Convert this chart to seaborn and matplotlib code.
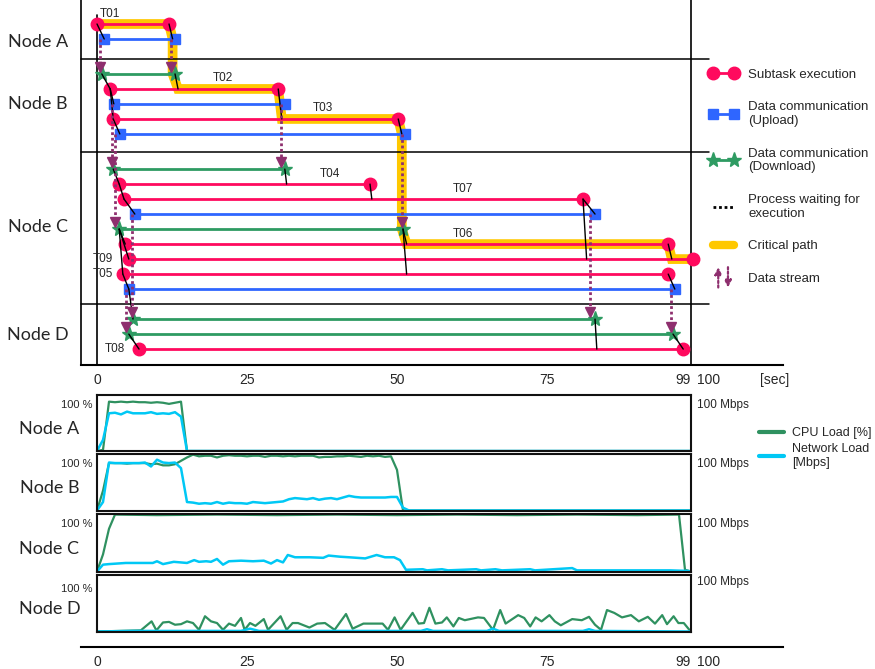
import matplotlib
matplotlib.use('Agg')
import matplotlib.pyplot as plt
import seaborn as sns
from matplotlib.lines import Line2D
from matplotlib.patches import FancyArrowPatch
from matplotlib.legend_handler import HandlerBase

sns.set_style('white')
plt.rcParams['font.family'] = ['Liberation Sans', 'DejaVu Sans']

PINK = '#ff0a5e'
BLUE = '#2f66ff'
GREEN = '#2e9b62'
GOLD = '#ffc800'
PURPLE = '#8e2f6e'
CYAN = '#00c8f5'
CPU_GREEN = '#2f9160'

# ---- task schedule (seconds) ----
node_names = ['Node A', 'Node B', 'Node C', 'Node D']
node_label_lane = [1.2, 5.33, 13.5, 20.7]
node_offset = [0, 1.33, 2.67, 3.67]
lane_node = [0, 0, 1, 1, 1, 1, 1, 2, 2, 2, 2, 2, 2, 2, 2, 2, 3, 3, 3]
lane_kind = ['exec', 'up', 'down', 'exec', 'up', 'exec', 'up',
             'down', 'exec', 'exec', 'up', 'down', 'exec', 'exec', 'exec', 'up',
             'down', 'down', 'exec']
lane_start = [0.0, 1.2, 0.8, 2.2, 2.8, 2.7, 3.8, 2.7, 3.7, 4.5, 6.3, 3.7, 4.7, 5.3, 4.3, 5.3, 6.0, 5.3, 7.0]
lane_end = [12.0, 13.0, 13.0, 30.2, 31.3, 50.2, 51.3, 31.3, 45.5, 81.0, 83.0, 51.0, 95.2, 99.3, 95.2, 96.3, 83.0, 96.0, 97.7]

task_names = ['T01', 'T02', 'T03', 'T04', 'T07', 'T06', 'T09', 'T05', 'T08']
task_lane = [0, 3, 5, 8, 9, 12, 13, 14, 18]
task_x = [2.1, 21.0, 37.7, 38.8, 61.0, 61.0, 2.7, 2.7, 4.6]
task_side = ['above'] * 6 + ['left'] * 3

# process waiting links: (lane from, t from, lane to, t to)
wait_links = [
    (0, 0.0, 1, 1.2), (0, 12.0, 1, 12.6),
    (2, 0.8, 3, 2.2), (3, 2.2, 4, 2.8), (3, 2.2, 5, 2.7), (5, 2.7, 6, 3.8),
    (2, 13.0, 3, 13.5), (3, 30.2, 5, 30.8), (5, 50.2, 6, 50.8),
    (7, 2.7, 8, 3.7), (8, 3.7, 9, 4.5), (9, 4.5, 10, 6.3),
    (7, 31.3, 8, 31.6), (8, 45.5, 9, 45.8),
    (11, 3.7, 12, 4.7), (11, 3.7, 13, 5.3), (11, 3.7, 14, 4.3), (14, 4.3, 15, 5.3),
    (11, 51.0, 12, 51.6), (11, 51.0, 14, 51.6),
    (9, 81.0, 10, 83.0), (9, 81.0, 13, 81.6),
    (12, 95.2, 13, 95.8), (14, 95.2, 15, 96.3),
    (15, 5.3, 16, 6.0), (17, 5.3, 18, 7.0),
    (16, 83.0, 18, 83.3), (17, 96.0, 18, 97.7),
]

# data streams: (t, lane from, lane to)
streams = [(0.5, 1, 2), (12.3, 1, 2), (2.5, 4, 7), (3.0, 6, 11), (30.7, 4, 7),
           (50.8, 6, 11), (5.8, 10, 16), (4.9, 15, 17), (82.2, 10, 16), (95.7, 15, 17)]

crit_t = [0.0, 12.0, 12.6, 12.6, 13.5, 30.2, 30.8, 50.2, 50.8, 50.8, 51.6, 95.2, 95.8, 99.3]
crit_lane = [0, 0, 1, 2, 3, 3, 5, 5, 6, 11, 12, 12, 13, 13]

# ---- load data ----
A_t = [0, 1, 2, 3, 4, 5, 6, 7, 8, 9, 10, 11, 12, 13, 14, 15, 99]
A_cpu = [0, 2, 89, 88, 89, 88, 89, 88, 88, 87, 88, 87, 85, 87, 89, 0, 0]
A_net = [0, 20, 68, 69, 66, 71, 68, 68, 68, 70, 67, 68, 67, 70, 62, 0, 0]

B_cpu_t = list(range(52)) + [99]
B_cpu = [0, 35, 84, 84, 84, 83, 84, 84, 84, 82, 83, 80, 80, 82, 88, 94, 99, 96, 97, 97,
         94, 97, 98, 97, 97, 96, 97, 97, 95, 97, 97, 96, 97, 96, 97, 97, 97, 94, 95, 95,
         96, 96, 97, 96, 95, 97, 96, 97, 95, 96, 72, 0, 0]
B_net_t = list(range(53)) + [99]
B_net = [0, 15, 85, 84, 84, 84, 84, 84, 85, 78, 90, 85, 84, 85, 75, 15, 14, 12, 13, 12,
         15, 12, 14, 13, 13, 12, 15, 14, 13, 14, 15, 16, 20, 22, 21, 20, 22, 19, 21, 22,
         20, 23, 26, 24, 23, 23, 23, 23, 23, 24, 24, 5, 0, 0]

C_cpu_t = [0, 1, 2, 3, 10, 20, 30, 40, 50, 60, 70, 80, 90, 97, 98, 99]
C_cpu = [0, 30, 75, 100, 99, 100, 99, 100, 99, 100, 99, 100, 99, 100, 3, 0]
C_net_t = [0, 1, 2, 4.8, 9.3, 10, 11, 12.8, 15, 16.2, 17, 18.2, 19, 20, 21, 22, 24, 26, 27.8, 29,
           30, 31, 31.8, 33, 35.4, 37.7, 38.6, 40.5, 42, 44.7, 46.6, 48, 49.5, 50.5, 51.5,
           54.3, 55, 57.5, 58.5, 63.2, 64, 66.4, 67.5, 72.2, 73, 79.2, 80, 95.5, 98.5, 99]
C_net = [0, 12, 13, 15, 15, 18, 13, 17, 15, 20, 17, 18, 17, 22, 12, 18, 19, 18, 19, 14,
         20, 16, 29, 25, 25, 24, 28, 26, 25, 23, 29, 25, 25, 20, 3,
         4, 2, 4, 2, 4, 2, 4, 2, 4, 2, 6, 2, 2, 1, 0]

D_cpu_t = [0, 7.3, 9.1, 9.9, 11, 12, 13, 14, 15, 16, 17, 18, 19, 20, 21, 22, 23, 24, 24.6, 25.5,
           26.4, 27.8, 28.5, 30.6, 31.6, 32.6, 33.5, 35.4, 36.7, 38, 39.6, 41.5, 42.6, 44.4, 47.6,
           48.5, 49.6, 50.6, 52.6, 53.6, 54.5, 55.4, 56.4, 57.5, 58.3, 59.4, 60.3, 61.3, 63.5, 64.5,
           66, 67.2, 68.1, 70.2, 71.2, 72.2, 73.1, 74.1, 75.4, 76.3, 77.3, 79.2, 80.8, 82, 83,
           84, 85, 86.2, 87.5, 89, 90.3, 91.8, 93, 94.2, 95, 96.1, 96.9, 97.8, 98.8, 99]
D_cpu = [0, 2, 18, 2, 16, 17, 12, 13, 18, 15, 3, 27, 18, 15, 3, 14, 10, 24, 3, 15,
         10, 22, 3, 27, 3, 15, 15, 7, 14, 15, 3, 31, 5, 14, 14, 3, 25, 3, 33, 14,
         15, 42, 14, 16, 25, 9, 24, 20, 25, 24, 3, 38, 14, 29, 24, 9, 25, 18, 29, 18,
         11, 22, 20, 26, 12, 3, 38, 33, 25, 29, 18, 26, 14, 29, 13, 27, 15, 15, 2, 1]
D_net_t = [0, 6, 24, 25.5, 27, 54, 55, 56, 65, 66, 67, 81, 82, 83, 99]
D_net = [0, 1, 1, 5, 1, 1, 4, 1, 1, 5, 1, 1, 4, 1, 0]

loads = [(A_t, A_cpu, A_t, A_net), (B_cpu_t, B_cpu, B_net_t, B_net),
         (C_cpu_t, C_cpu, C_net_t, C_net), (D_cpu_t, D_cpu, D_net_t, D_net)]

major_ticks = [0, 25, 50, 75, 99, 100]
minor_ticks = [5, 10, 15, 20, 30, 35, 40, 45, 55, 60, 65, 70, 80, 85, 90, 95, 105, 110]

W, H = 875, 669
fig = plt.figure(figsize=(W / 100, H / 100), dpi=100)


def rect(x0, y0, x1, y1):
    return [x0 / W, 1 - y1 / H, (x1 - x0) / W, (y1 - y0) / H]


def time_axis(a):
    a.set_xticks(major_ticks)
    a.set_xticklabels([str(v) for v in major_ticks])
    a.set_xticks(minor_ticks, minor=True)
    a.tick_params(axis='x', which='major', direction='in', length=8, width=1, labelsize=10, pad=6)
    a.tick_params(axis='x', which='minor', direction='in', length=4.5, width=1)
    labs = a.get_xticklabels()
    labs[4].set_ha('right')
    labs[5].set_ha('left')


class StreamHandler(HandlerBase):
    # two dotted arrows, one up and one down
    def create_artists(self, legend, orig_handle, xdescent, ydescent, width, height, fontsize, trans):
        cx = width / 2 - xdescent
        lo, hi = -ydescent - 0.9 * height, 1.9 * height - ydescent
        arts = []
        for dx, a, b in [(-3.5, lo, hi), (3.5, hi, lo)]:
            arts.append(FancyArrowPatch((cx + dx, a), (cx + dx, b), arrowstyle='-|>', mutation_scale=10,
                                        color=PURPLE, lw=1.6, linestyle=(0, (1, 1)), transform=trans))
        return arts


# ---- top: schedule ----
ax = fig.add_axes(rect(81, 0, 783, 365))
ax.set_xlim(-2.67, 114.33)
ax.set_ylim(22.73, -1.6)
lane_y = [i + node_offset[n] for i, n in enumerate(lane_node)]
sep_y = [(lane_y[1] + lane_y[2]) / 2 + 0.2, (lane_y[6] + lane_y[7]) / 2, (lane_y[15] + lane_y[16]) / 2]

ax.plot(crit_t, [lane_y[l] for l in crit_lane], color=GOLD, lw=7, zorder=1,
        solid_joinstyle='miter', solid_capstyle='butt')

styles = {'exec': (PINK, 'o', 9), 'up': (BLUE, 's', 7), 'down': (GREEN, '*', 11)}
for y, kind, s, e in zip(lane_y, lane_kind, lane_start, lane_end):
    col, mk, ms = styles[kind]
    ax.plot([s, e], [y, y], color=col, lw=2, marker=mk, ms=ms, mec=col, mfc=col, zorder=3)

for la, ta, lb, tb in wait_links:
    ax.plot([ta, tb], [lane_y[la], lane_y[lb]], color='black', lw=1, zorder=4)

for t, la, lb in streams:
    tip = lane_y[lb] - 0.45
    ax.plot([t, t], [lane_y[la], tip], color=PURPLE, lw=2, ls=(0, (1, 1)), zorder=5)
    ax.plot([t], [tip], marker='v', ms=7, color=PURPLE, zorder=5)

for name, lane, x, side in zip(task_names, task_lane, task_x, task_side):
    if side == 'above':
        ax.text(x, lane_y[lane] - 0.3, name, ha='center', va='bottom', fontsize=8.5)
    else:
        ax.text(x, lane_y[lane], name, ha='right', va='center', fontsize=8.5)

for y in sep_y:
    ax.plot([-2.67, 102], [y, y], color='black', lw=1.1, zorder=2, clip_on=False)
ax.plot([0, 0], [22.73, -0.6], color='black', lw=1.2, zorder=2)
ax.plot([99, 99], [22.73, -1.6], color='black', lw=1.2, zorder=2)

for name, y in zip(node_names, node_label_lane):
    ax.text(-9.8, y, name, ha='center', va='center', fontsize=13, family=['Lato', 'DejaVu Sans'])

sns.despine(ax=ax, top=True, right=True)
ax.spines['left'].set_linewidth(1.2)
ax.spines['bottom'].set_linewidth(1.5)
ax.spines['left'].set_color('black')
ax.spines['bottom'].set_color('black')
ax.set_yticks([])
time_axis(ax)
ax.text(113, -0.04, '[sec]', transform=ax.get_xaxis_transform(), ha='center', va='center', fontsize=10)

stream_handle = Line2D([], [], color=PURPLE)
handles = [
    Line2D([], [], color=PINK, lw=2, marker='o', ms=9, mec=PINK),
    Line2D([], [], color=BLUE, lw=2, marker='s', ms=7, mec=BLUE),
    Line2D([], [], color=GREEN, lw=2, marker='*', ms=11, mec=GREEN),
    Line2D([], [], color='black', lw=2, ls=(0, (1, 1))),
    Line2D([], [], color=GOLD, lw=6),
    stream_handle,
]
labels = ['Subtask execution', 'Data communication\n(Upload)', 'Data communication\n(Download)',
          'Process waiting for\nexecution', 'Critical path', 'Data stream']
ax.legend(handles, labels, loc='upper left', bbox_to_anchor=(702 / W, 1 - 62 / H),
          bbox_transform=fig.transFigure, frameon=False, numpoints=2, handlelength=2.2,
          handletextpad=0.8, labelspacing=1.55, fontsize=9.5, borderpad=0,
          handler_map={stream_handle: StreamHandler()})

# ---- bottom: loads ----
panel_rows = [(395, 451), (453.5, 510.5), (514, 571.5), (574.5, 631.5)]
mbps_y = [0.82, 0.82, 0.82, 0.86]
for i, ((y0, y1), name, (ct, cv, nt, nv)) in enumerate(zip(panel_rows, node_names, loads)):
    pa = fig.add_axes(rect(97, y0, 691, y1))
    sns.lineplot(x=ct, y=cv, ax=pa, color=CPU_GREEN, lw=1.6)
    sns.lineplot(x=nt, y=nv, ax=pa, color=CYAN, lw=1.8)
    pa.set_xlim(0, 99)
    pa.set_ylim(0, 101)
    pa.set_xticks([])
    pa.set_yticks([])
    pa.set_xlabel('')
    pa.set_ylabel('')
    for sp in pa.spines.values():
        sp.set_visible(True)
        sp.set_linewidth(1.5)
        sp.set_color('#111111')
    pa.text(-0.008, 0.82 if i < 3 else 0.74, '100 %', transform=pa.transAxes, ha='right', va='center', fontsize=8)
    pa.text(1.01, mbps_y[i], '100 Mbps', transform=pa.transAxes, ha='left', va='center', fontsize=8.5)
    pa.text(-0.08, 0.4, name, transform=pa.transAxes, ha='center', va='center', fontsize=13,
            family=['Lato', 'DejaVu Sans'])
    if i == 0:
        pa.legend([Line2D([], [], color=CPU_GREEN, lw=3), Line2D([], [], color=CYAN, lw=3)],
                  ['CPU Load [%]', 'Network Load\n[Mbps]'], loc='upper left',
                  bbox_to_anchor=(753 / W, 1 - 421 / H), bbox_transform=fig.transFigure,
                  frameon=False, handlelength=2.0, handletextpad=0.6, labelspacing=0.3,
                  fontsize=9, borderpad=0)

bx = fig.add_axes(rect(81, 600, 783, 647))
bx.set_xlim(-2.67, 114.33)
bx.set_ylim(0, 1)
bx.set_yticks([])
for k in ['top', 'right', 'left']:
    bx.spines[k].set_visible(False)
bx.spines['bottom'].set_linewidth(1.5)
bx.spines['bottom'].set_color('black')
bx.patch.set_alpha(0)
time_axis(bx)

fig.savefig('out.png', dpi=100)
